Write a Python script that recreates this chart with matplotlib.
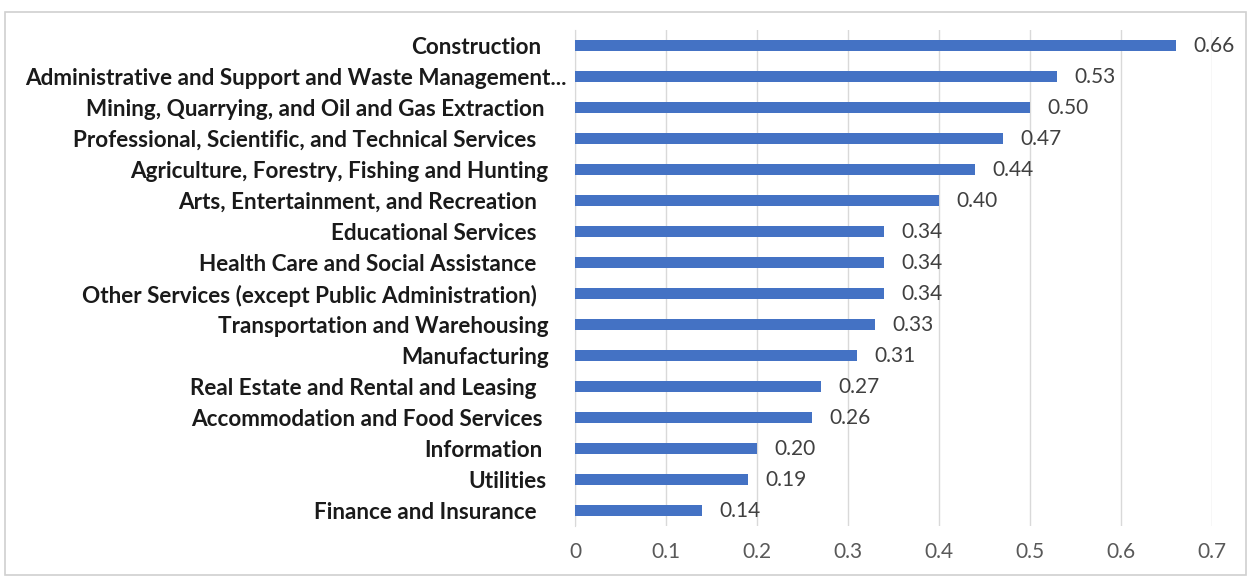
import matplotlib
matplotlib.use("Agg")
import matplotlib.pyplot as plt
import matplotlib.transforms as mtransforms
from matplotlib.patches import Rectangle

industries = [
    "Construction",
    "Administrative and Support and Waste Management...",
    "Mining, Quarrying, and Oil and Gas Extraction",
    "Professional, Scientific, and Technical Services",
    "Agriculture, Forestry, Fishing and Hunting",
    "Arts, Entertainment, and Recreation",
    "Educational Services",
    "Health Care and Social Assistance",
    "Other Services (except Public Administration)",
    "Transportation and Warehousing",
    "Manufacturing",
    "Real Estate and Rental and Leasing",
    "Accommodation and Food Services",
    "Information",
    "Utilities",
    "Finance and Insurance",
]
values = [0.66, 0.53, 0.50, 0.47, 0.44, 0.40, 0.34, 0.34, 0.34, 0.33,
          0.31, 0.27, 0.26, 0.20, 0.19, 0.14]
xticks = [0, 0.1, 0.2, 0.3, 0.4, 0.5, 0.6, 0.7]
# the source labels carry trailing blanks, so they end at different x
label_trail_px = [25, 0, 22, 30, 18, 30, 30, 30, 30, 18, 18, 30, 24, 24, 20, 30]

plt.rcParams['font.family'] = ['Lato', 'DejaVu Sans']

fig = plt.figure(figsize=(12.5, 5.77), dpi=100)
ax = fig.add_axes([0.46, 0.088, 0.5096, 0.86])

pos = list(range(len(industries)))[::-1]
ax.barh(pos, values, height=0.36, color="#4472C4", zorder=3)

for p, v in zip(pos, values):
    ax.text(v + 0.019, p, f"{v:.2f}", va="center", ha="left",
            fontsize=15, color="#404040")

ax.set_yticks(pos)
ax.set_yticklabels(industries, fontsize=16.2, fontweight="bold", color="#1a1a1a")
ax.set_ylim(-0.5, len(industries) - 0.5)
ax.set_xlim(0, 0.7)
ax.set_xticks(xticks)
ax.set_xticklabels([f"{t:g}" for t in xticks], fontsize=15, color="#595959")
ax.tick_params(axis="y", length=0, pad=6)
ax.tick_params(axis="x", length=0, pad=11)

for lab, shift in zip(ax.get_yticklabels(), label_trail_px):
    off = mtransforms.ScaledTranslation(-shift / 100, 0, fig.dpi_scale_trans)
    lab.set_transform(lab.get_transform() + off)

ax.grid(axis="x", color="#D9D9D9", linewidth=1, zorder=0)
for s in ["top", "right", "bottom"]:
    ax.spines[s].set_visible(False)
ax.spines["left"].set_color("#D9D9D9")

fig.patches.append(Rectangle((0.004, 0.004), 0.993, 0.975,
                             transform=fig.transFigure, fill=False,
                             edgecolor="#D0D0D0", linewidth=1.2))

fig.savefig("out.png", dpi=100)
